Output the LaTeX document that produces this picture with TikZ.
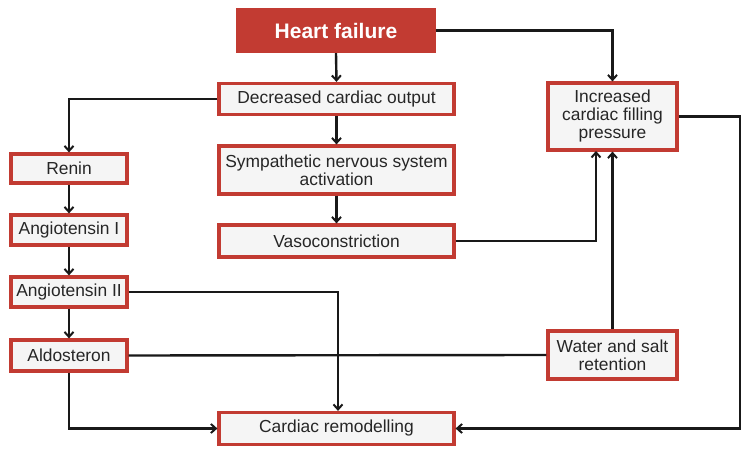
\documentclass[tikz,border=0pt]{standalone}
\usepackage{fontspec}
\setmainfont{Liberation Sans}
\usetikzlibrary{arrows.meta}
\definecolor{hfred}{HTML}{C23B32}
\definecolor{boxfill}{HTML}{F5F5F5}
\begin{document}
\begin{tikzpicture}[x=1pt,y=-1pt,
  box/.style={draw=hfred,fill=boxfill,line width=3.2pt,inner sep=0pt,align=center,
    font=\fontsize{17.4}{18}\selectfont,text=black!85},
  hfbox/.style={fill=hfred,inner sep=0pt,text=white,font=\fontsize{21}{24}\selectfont\bfseries},
  conn/.style={line width=2.4pt,draw=black!90},
  arr/.style={conn,-{Straight Barb[length=5pt,width=9pt,line width=2pt]}}]
\useasboundingbox (0,0) rectangle (750,454);
\node[hfbox,minimum width=200pt,minimum height=45pt] (hf) at (336,30.5) {Heart failure};
\node[box,minimum width=235pt,minimum height=31pt] (dco) at (336.5,99) {Decreased cardiac output};
\node[box,minimum width=235pt,minimum height=48pt] (sns) at (336.5,170) {Sympathetic nervous system\\activation};
\node[box,minimum width=235pt,minimum height=32pt] (vaso) at (336.5,241) {Vasoconstriction};
\node[box,minimum width=235pt,minimum height=32pt] (cr) at (336.5,428.5) {Cardiac remodelling};
\node[box,minimum width=129pt,minimum height=67pt] (ifp) at (612.5,116.5) {Increased\\cardiac filling\\pressure};
\node[box,minimum width=129pt,minimum height=48pt] (wsr) at (612.5,355) {Water and salt\\retention};
\node[box,minimum width=116pt,minimum height=29pt] (renin) at (69,168.5) {Renin};
\node[box,minimum width=116pt,minimum height=30pt] (ang1) at (69,230) {Angiotensin I};
\node[box,minimum width=116pt,minimum height=30pt] (ang2) at (69,292) {Angiotensin II};
\node[box,minimum width=116pt,minimum height=31pt] (aldo) at (69,355.5) {Aldosteron};
\coordinate (rc) at (740,428.5);
\coordinate (vin) at (596,151);
% connectors
\draw[arr] (hf.south) -- (dco.north);
\draw[arr] (hf.east) -| (ifp.north);
\draw[arr] (dco.west) -| (renin.north);
\draw[arr] (dco.south) -- (sns.north);
\draw[arr] (sns.south) -- (vaso.north);
\draw[arr] (vaso.east) -| (vin);
\draw[arr] (wsr.north) -- (ifp.south);
\draw[arr] (ifp.east) -| (rc) -- (cr.east);
\draw[arr] (renin.south) -- (ang1.north);
\draw[arr] (ang1.south) -- (ang2.north);
\draw[arr] (ang2.south) -- (aldo.north);
\draw[arr] (ang2.east) -| ([xshift=1.5pt]cr.north);
\draw[conn] (aldo.east) -- (wsr.west);
\draw[arr] (aldo.south) |- (cr.west);
\end{tikzpicture}
\end{document}
